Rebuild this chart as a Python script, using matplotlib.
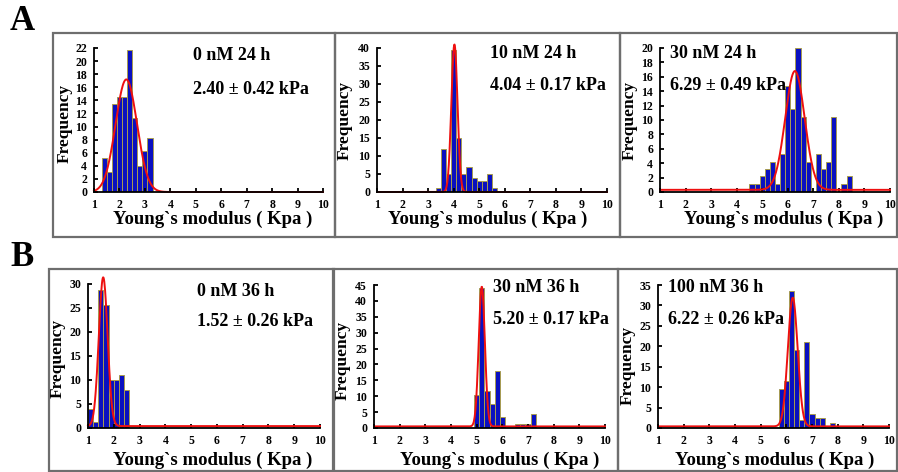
import numpy as np
import matplotlib
matplotlib.use("Agg")
import matplotlib.pyplot as plt
from matplotlib.patches import Rectangle

W, H = 898, 472

# bin centres (Kpa) and counts
a1_x = [1.4, 1.6, 1.8, 2.0, 2.2, 2.4, 2.6, 2.8, 3.0, 3.2]
a1_y = [5.2, 3, 13.4, 14.5, 14.5, 21.7, 11.3, 4, 6.2, 8.2]
a2_x = [3.4, 3.6, 3.8, 4.0, 4.2, 4.4, 4.6, 4.8, 5.0, 5.2, 5.4, 5.6]
a2_y = [1, 12, 5, 39.5, 15, 5, 7, 4, 3, 3, 5, 1]
a3_x = [4.6, 4.8, 5.0, 5.2, 5.4, 5.6, 5.8, 6.0, 6.2, 6.4, 6.6, 6.8, 7.0, 7.2,
        7.4, 7.6, 7.8, 8.0, 8.2, 8.4]
a3_y = [1.1, 1.1, 2.2, 3.2, 4.2, 1.1, 5.3, 14.7, 11.5, 20, 10.4, 4.2, 0, 5.3,
        3.2, 4.2, 10.4, 0, 1.1, 2.2]
b1_x = [1.1, 1.3, 1.5, 1.7, 1.9, 2.1, 2.3, 2.5]
b1_y = [4, 1.2, 28.7, 25.7, 10, 10, 11, 8]
b2_x = [5.0, 5.2, 5.4, 5.6, 5.8, 6.0, 6.2, 6.4, 6.6, 6.8, 7.0, 7.2]
b2_y = [10.5, 44, 11.5, 7.5, 18, 3.5, 0, 0, 1.2, 1.2, 1.2, 4.4]
b3_x = [5.8, 6.0, 6.2, 6.4, 6.6, 6.8, 7.0, 7.2, 7.4, 7.6, 7.8]
b3_y = [9.6, 11.5, 33.5, 19, 2, 21, 3.5, 2.4, 2.4, 0, 1.2]

# normal fit: centre, sd, peak height, baseline
a1_fit = (2.27, 0.42, 17.2, 0.0)
a2_fit = (4.03, 0.12, 41.0, 0.0)
a3_fit = (6.28, 0.38, 16.5, 0.3)
b1_fit = (1.59, 0.17, 31.0, 0.4)
b2_fit = (5.20, 0.12, 44.0, 0.5)
b3_fit = (6.25, 0.19, 31.5, 0.4)

titles = ["0 nM 24 h", "10 nM 24 h", "30 nM 24 h",
          "0 nM 36 h", "30 nM 36 h", "100 nM 36 h"]
values = ["2.40 ± 0.42 kPa", "4.04 ± 0.17 kPa", "6.29 ± 0.49 kPa",
          "1.52 ± 0.26 kPa", "5.20 ± 0.17 kPa", "6.22 ± 0.26 kPa"]
ymax = [22, 40, 20, 30, 45, 35]
ystep = [2, 5, 2, 5, 5, 5]

FONT = "Liberation Serif"
plt.rcParams["font.family"] = FONT
plt.rcParams["font.weight"] = "bold"

fig = plt.figure(figsize=(W / 100, H / 100), dpi=100)


def px_rect(l, t, r, b):
    return [l / W, 1 - b / H, (r - l) / W, (b - t) / H]


def ftext(x, y, s, **kw):
    fig.text(x / W, 1 - y / H, s, fontfamily=FONT, fontweight="bold", **kw)


# grey panel frames
frames = [(53, 33, 335, 237), (335, 33, 620, 237), (620, 33, 897, 237),
          (49, 269, 334, 471), (333, 269, 618, 471), (618, 269, 897, 471)]
for l, t, r, b in frames:
    fig.patches.append(Rectangle((l / W, 1 - b / H), (r - l) / W, (b - t) / H,
                                 transform=fig.transFigure, fill=False,
                                 edgecolor="#6e6e6e", linewidth=1.6))

axes_px = [(94, 48, 323, 192), (377, 48, 607, 192), (660, 48, 890, 192),
           (88, 284, 320, 428), (374, 285, 605, 428), (658, 285, 889, 428)]
data = [(a1_x, a1_y, a1_fit), (a2_x, a2_y, a2_fit), (a3_x, a3_y, a3_fit),
        (b1_x, b1_y, b1_fit), (b2_x, b2_y, b2_fit), (b3_x, b3_y, b3_fit)]
text_pos = [(193, 56, 89), (490, 53, 85), (670, 53, 85),
            (197, 292, 322), (493, 288, 320), (668, 288, 320)]
# x label: centre x, baseline y
xlab_pos = [(213, 224), (488, 224), (784, 224), (213, 465), (500, 465), (775, 465)]
ylab_pos = [(65, 123), (345, 120), (630, 120), (58, 358), (343, 360), (628, 365)]

xs = np.linspace(1, 10, 600)
for i in range(6):
    ax = fig.add_axes(px_rect(*axes_px[i]))
    bx, by, (mu, sd, pk, base) = data[i]
    ax.bar(bx, by, width=0.2, color="#0a10c0", edgecolor="#a89c50", linewidth=0.7)
    ax.plot(xs, base + pk * np.exp(-0.5 * ((xs - mu) / sd) ** 2), color="#ee1010",
            lw=1.4, clip_on=False)
    ax.set_xlim(1, 10)
    ax.set_ylim(0, ymax[i])
    ax.set_xticks(range(1, 11))
    ax.set_yticks(range(0, ymax[i] + 1, ystep[i]))
    ax.patch.set_alpha(0)
    for s in ["top", "right"]:
        ax.spines[s].set_visible(False)
    for s in ["left", "bottom"]:
        ax.spines[s].set_linewidth(1.3)
    ax.tick_params(direction="in", length=3, width=1.3, labelsize=8.5)
    ax.tick_params(axis="x", pad=5)
    ax.tick_params(axis="y", pad=5)
    for lab in ax.get_xticklabels() + ax.get_yticklabels():
        lab.set_fontweight("bold")

    tx, ty1, ty2 = text_pos[i]
    ftext(tx, ty1, titles[i], fontsize=13, va="center")
    ftext(tx, ty2, values[i], fontsize=13, va="center")
    ftext(*xlab_pos[i], "Young`s modulus ( Kpa )", fontsize=13.5, ha="center",
          va="baseline")
    ftext(*ylab_pos[i], "Frequency", fontsize=12.5, ha="center", va="center", rotation=90)

ftext(10, 21, "A", fontsize=25, va="center")
ftext(10, 257, "B", fontsize=25, va="center")

fig.savefig("out.png", dpi=100)
